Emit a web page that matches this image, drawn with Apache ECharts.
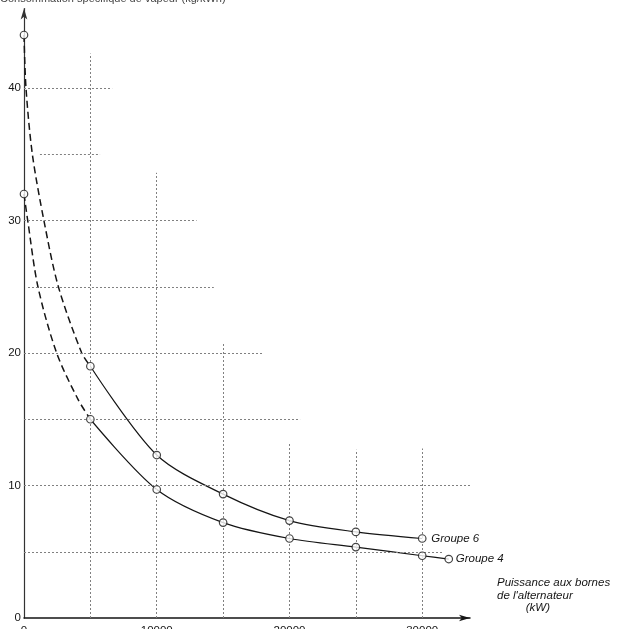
<!DOCTYPE html>
<html>
<head>
<meta charset="utf-8">
<script src="https://cdn.jsdelivr.net/npm/echarts@6/dist/echarts.min.js"></script>
<style>
html,body{margin:0;padding:0;background:#fff;}
#chart{width:618px;height:629px;}
</style>
</head>
<body>
<div id="chart"></div>
<script>
// ---- Data ----
const axisTitle = 'Consommation spécifique de vapeur (kg/kWh)';
const xAxisTitle = 'Puissance aux bornes\nde l\'alternateur\n         (kW)';
const yTicks = [0, 10, 20, 30, 40];
const xTicks = [0, 10000, 20000, 30000];

// Groupe 6 measured points
const g6Power = [0, 5000, 10000, 15000, 20000, 25000, 30000];
const g6Value = [44, 19, 12.3, 9.35, 7.35, 6.5, 6.0];
// Groupe 4 measured points
const g4Power = [0, 5000, 10000, 15000, 20000, 25000, 30000, 32000];
const g4Value = [32, 15, 9.7, 7.2, 6.0, 5.35, 4.7, 4.45];

// Dashed (extrapolated) part
const g6DashPower = [0, 150, 630, 1500, 2590, 4350, 5000];
const g6DashValue = [44, 40, 35, 30, 25, 20, 19];
const g4DashPower = [0, 280, 1050, 2460, 4070, 5000];
const g4DashValue = [32, 30, 25, 20, 16.5, 15];

// Partial grid lines (data units)
const vGridX = [5000, 10000, 15000, 20000, 25000, 30000];
const vGridTop = [42.6, 33.6, 20.75, 13.2, 12.7, 12.8];
const hGridY = [5, 10, 15, 20, 25, 30, 35, 40];
const hGridFrom = [0, 0, 0, 0, 300, 0, 1200, 0];
const hGridTo = [31600, 33600, 20800, 18000, 14300, 13000, 5730, 6640];

// ---- Build ----
const zip = (xs, ys) => xs.map((x, i) => [x, ys[i]]);
const solid6 = zip(g6Power, g6Value).filter(p => p[0] >= 5000);
const solid4 = zip(g4Power, g4Value).filter(p => p[0] >= 5000);

const gridLines = [];
vGridX.forEach((x, i) => gridLines.push([{coord: [x, 0]}, {coord: [x, vGridTop[i]]}]));
hGridY.forEach((y, i) => gridLines.push([{coord: [hGridFrom[i], y]}, {coord: [hGridTo[i], y]}]));

const ink = '#151515';
const font = '"Liberation Sans", "DejaVu Sans", Arial, sans-serif';

const chart = echarts.init(document.getElementById('chart'), null, {renderer: 'canvas'});
chart.setOption({
  animation: false,
  backgroundColor: '#fff',
  grid: {left: 24, right: 148, top: 8.5, bottom: 11, containLabel: false, outerBoundsMode: 'none'},
  xAxis: {
    type: 'value', min: 0, max: 33600, interval: 10000,
    axisLine: {show: true, lineStyle: {color: ink, width: 1.5}, symbol: ['none', 'arrow'], symbolSize: [5, 11]},
    axisTick: {show: false},
    splitLine: {show: false},
    axisLabel: {showMaxLabel: false, fontFamily: font, fontSize: 11.5, color: ink, margin: 7,
      formatter: v => xTicks.includes(v) ? String(v) : ''}
  },
  yAxis: {
    type: 'value', min: 0, max: 46, interval: 10,
    axisLine: {show: true, lineStyle: {color: '#333', width: 1.2}, symbol: ['none', 'arrow'], symbolSize: [5, 11]},
    axisTick: {show: false},
    splitLine: {show: false},
    axisLabel: {showMaxLabel: false, fontFamily: font, fontSize: 11.5, color: ink, margin: 3,
      formatter: v => yTicks.includes(v) ? String(v) : ''}
  },
  graphic: [{
    type: 'text', left: 0, top: -7,
    style: {text: axisTitle, font: '11px ' + font, fill: '#444'}
  }, {
    type: 'text', left: 497, top: 577,
    style: {text: xAxisTitle, font: 'italic 11.5px ' + font, fill: ink, lineHeight: 12.5}
  }],
  series: [
    {
      name: 'grid', type: 'line', data: [], silent: true,
      markLine: {silent: true, symbol: ['none', 'none'], label: {show: false},
        lineStyle: {color: '#808080', type: [2, 2], width: 1}, data: gridLines}
    },
    {
      name: 'Groupe 6 (extrapolé)', type: 'line', data: zip(g6DashPower, g6DashValue),
      showSymbol: false, smooth: 0.3,
      lineStyle: {color: ink, width: 1.5, type: [7, 4]}
    },
    {
      name: 'Groupe 4 (extrapolé)', type: 'line', data: zip(g4DashPower, g4DashValue),
      showSymbol: false, smooth: 0.3,
      lineStyle: {color: ink, width: 1.5, type: [7, 4]}
    },
    {
      name: 'Groupe 6', type: 'line', data: solid6,
      showSymbol: false, smooth: 0.3,
      lineStyle: {color: ink, width: 1.2},
      endLabel: {show: true, formatter: 'Groupe 6', distance: 9, fontFamily: font, fontStyle: 'italic', fontSize: 11.5, color: ink}
    },
    {
      name: 'Groupe 4', type: 'line', data: solid4,
      showSymbol: false, smooth: 0.3,
      lineStyle: {color: ink, width: 1.2},
      endLabel: {show: true, formatter: 'Groupe 4', distance: 7, fontFamily: font, fontStyle: 'italic', fontSize: 11.5, color: ink}
    },
    {
      name: 'Groupe 6 points', type: 'scatter', data: zip(g6Power, g6Value), z: 5,
      symbol: 'circle', symbolSize: 7.5,
      itemStyle: {color: '#fff', borderColor: ink, borderWidth: 1.2}
    },
    {
      name: 'Groupe 4 points', type: 'scatter', data: zip(g4Power, g4Value), z: 5,
      symbol: 'circle', symbolSize: 7.5,
      itemStyle: {color: '#fff', borderColor: ink, borderWidth: 1.2}
    }
  ]
});
</script>
</body>
</html>
